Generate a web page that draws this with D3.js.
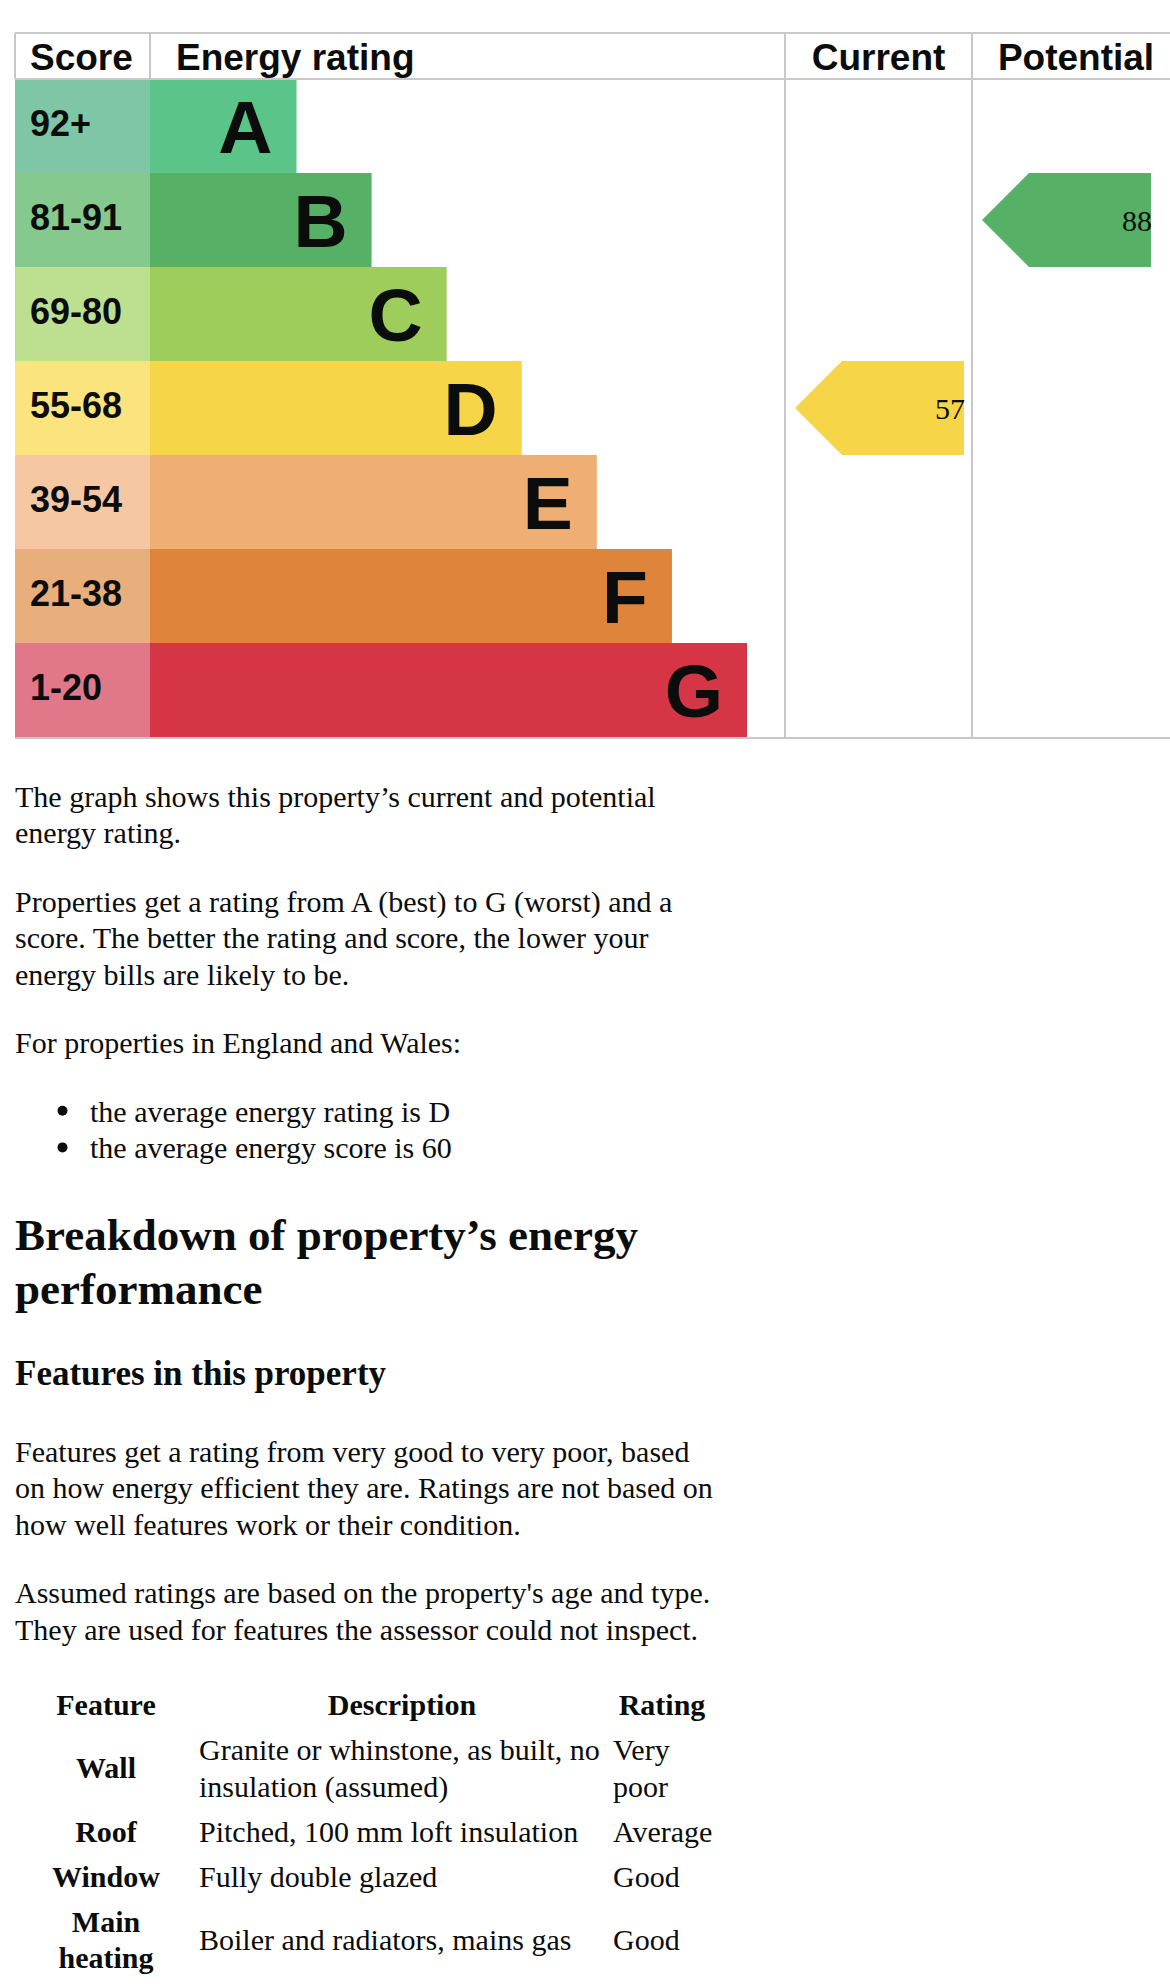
<!DOCTYPE html>
<html>
<head>
<meta charset="utf-8">
<script src="https://cdn.jsdelivr.net/npm/d3@7"></script>
<style>
  html, body { margin: 0; padding: 0; background: #fff; }
  svg { display: block; }
</style>
</head>
<body>
<div id="chart"></div>
<script>
// ---------- DATA ----------
const ratings = ["A", "B", "C", "D", "E", "F", "G"];
const scoreRanges = ["92+", "81-91", "69-80", "55-68", "39-54", "21-38", "1-20"];
const bandMinScores = [21, 39, 55, 69, 81, 92];       // thresholds G..A
const bandsLowToHigh = ["G", "F", "E", "D", "C", "B", "A"];
const barColors = ["#5bc589", "#56b166", "#9ecd5c", "#f6d548", "#efae74", "#df843b", "#d63546"];
const scoreColors = ["#7fc6a6", "#85c98f", "#bde090", "#fbe37d", "#f5c8a3", "#e8ae7c", "#e07889"];
const columnHeaders = ["Score", "Energy rating", "Current", "Potential"];
const currentScore = 57;
const potentialScore = 88;

const introParagraphs = [
  ["The graph shows this property\u2019s current and potential", "energy rating."],
  ["Properties get a rating from A (best) to G (worst) and a", "score. The better the rating and score, the lower your", "energy bills are likely to be."],
  ["For properties in England and Wales:"]
];
const bullets = ["the average energy rating is D", "the average energy score is 60"];
const headingLines = ["Breakdown of property\u2019s energy", "performance"];
const subHeading = "Features in this property";
const featureParagraphs = [
  ["Features get a rating from very good to very poor, based", "on how energy efficient they are. Ratings are not based on", "how well features work or their condition."],
  ["Assumed ratings are based on the property's age and type.", "They are used for features the assessor could not inspect."]
];
const tableHeaders = ["Feature", "Description", "Rating"];
const featureNames = [["Wall"], ["Roof"], ["Window"], ["Main", "heating"]];
const featureDescriptions = [
  ["Granite or whinstone, as built, no", "insulation (assumed)"],
  ["Pitched, 100 mm loft insulation"],
  ["Fully double glazed"],
  ["Boiler and radiators, mains gas"]
];
const featureRatings = [["Very", "poor"], ["Average"], ["Good"], ["Good"]];

// ---------- LAYOUT ----------
const W = 1170, H = 1986;
const SANS = "'Liberation Sans', Arial, Helvetica, sans-serif";
const SERIF = "'Liberation Serif', 'Times New Roman', Times, serif";
const INK = "#0b0c0c";
const GRID = "#c8c8c8";

const tableLeft = 15, scoreDiv = 150, curDiv = 785, potDiv = 972, tableRight = 1181;
const tableTop = 33, headerBottom = 79, chartBottom = 737;

const svg = d3.select("#chart").append("svg")
  .attr("width", W).attr("height", H)
  .attr("viewBox", `0 0 ${W} ${H}`);

const y = d3.scaleBand().domain(ratings).range([headerBottom, chartBottom]).paddingInner(0).paddingOuter(0);
const barRight = d3.scaleLinear().domain([0, ratings.length - 1]).range([296.5, 747]);
const bandOf = d3.scaleThreshold().domain(bandMinScores).range(bandsLowToHigh);

// score cells
svg.append("g").selectAll("rect").data(ratings).join("rect")
  .attr("x", tableLeft).attr("y", d => y(d))
  .attr("width", scoreDiv - tableLeft).attr("height", y.bandwidth())
  .attr("fill", (d, i) => scoreColors[i]);

// bars
svg.append("g").selectAll("rect").data(ratings).join("rect")
  .attr("x", scoreDiv).attr("y", d => y(d))
  .attr("width", (d, i) => barRight(i) - scoreDiv).attr("height", y.bandwidth())
  .attr("fill", (d, i) => barColors[i]);

// score labels
svg.append("g").selectAll("text").data(scoreRanges).join("text")
  .attr("x", 30).attr("y", (d, i) => y(ratings[i]) + y.bandwidth() / 2 + 9.5)
  .attr("font-family", SANS).attr("font-weight", "bold").attr("font-size", 36)
  .attr("fill", INK).text(d => d);

// rating letters
svg.append("g").selectAll("text").data(ratings).join("text")
  .attr("x", (d, i) => barRight(i) - 24).attr("y", d => y(d) + y.bandwidth() / 2 + 26.5)
  .attr("text-anchor", "end")
  .attr("font-family", SANS).attr("font-weight", "bold").attr("font-size", 75)
  .attr("fill", INK).text(d => d);

// grid lines
const grid = svg.append("g").attr("stroke", GRID).attr("stroke-width", 2).attr("fill", "none");
grid.append("line").attr("x1", tableLeft).attr("x2", tableRight).attr("y1", tableTop).attr("y2", tableTop);
grid.append("line").attr("x1", tableLeft).attr("x2", tableRight).attr("y1", headerBottom).attr("y2", headerBottom);
grid.append("line").attr("x1", tableLeft).attr("x2", tableRight).attr("y1", chartBottom + 1).attr("y2", chartBottom + 1);
grid.append("line").attr("x1", tableLeft).attr("x2", tableLeft).attr("y1", tableTop).attr("y2", headerBottom);
grid.append("line").attr("x1", scoreDiv).attr("x2", scoreDiv).attr("y1", tableTop).attr("y2", headerBottom);
grid.append("line").attr("x1", curDiv).attr("x2", curDiv).attr("y1", tableTop).attr("y2", chartBottom + 1);
grid.append("line").attr("x1", potDiv).attr("x2", potDiv).attr("y1", tableTop).attr("y2", chartBottom + 1);

// header texts
const headerPos = [
  { x: 30, anchor: "start" },
  { x: 176, anchor: "start" },
  { x: (curDiv + potDiv) / 2, anchor: "middle" },
  { x: 1076, anchor: "middle" }
];
svg.append("g").selectAll("text").data(columnHeaders).join("text")
  .attr("x", (d, i) => headerPos[i].x).attr("y", 70)
  .attr("text-anchor", (d, i) => headerPos[i].anchor)
  .attr("font-family", SANS).attr("font-weight", "bold").attr("font-size", 37)
  .attr("fill", INK).text(d => d);

// arrows
const arrows = [
  { score: currentScore, col: curDiv },
  { score: potentialScore, col: potDiv }
];
const ag = svg.append("g").selectAll("g").data(arrows).join("g");
ag.append("path")
  .attr("d", d => {
    const b = bandOf(d.score);
    const t = y(b), bt = t + y.bandwidth(), yc = t + y.bandwidth() / 2;
    const x0 = d.col + 10, x1 = d.col + 10 + y.bandwidth() / 2, x2 = d.col + 179;
    return `M${x0},${yc}L${x1},${t}L${x2},${t}L${x2},${bt}L${x1},${bt}Z`;
  })
  .attr("fill", d => barColors[ratings.indexOf(bandOf(d.score))]);
ag.append("text")
  .attr("x", d => d.col + 180)
  .attr("y", d => y(bandOf(d.score)) + y.bandwidth() / 2 + 11)
  .attr("text-anchor", "end")
  .attr("font-family", SERIF).attr("font-size", 30).attr("fill", INK)
  .text(d => d.score);

// ---------- TEXT BELOW ----------
const body = svg.append("g").attr("font-family", SERIF).attr("fill", INK);
const LH = 36.7;
const paraStarts = [806.7, 911.7, 1053.3];
introParagraphs.forEach((lines, p) => {
  lines.forEach((ln, j) => {
    body.append("text").attr("x", 15).attr("y", paraStarts[p] + j * LH)
      .attr("font-size", 30).text(ln);
  });
});
bullets.forEach((b, j) => {
  const by = 1121.7 + j * LH;
  body.append("circle").attr("cx", 62.5).attr("cy", by - 11).attr("r", 5).attr("fill", INK);
  body.append("text").attr("x", 90).attr("y", by).attr("font-size", 30).text(b);
});
headingLines.forEach((ln, j) => {
  body.append("text").attr("x", 15).attr("y", 1250 + j * 54)
    .attr("font-size", 45).attr("font-weight", "bold").text(ln);
});
body.append("text").attr("x", 15).attr("y", 1385)
  .attr("font-size", 35).attr("font-weight", "bold").text(subHeading);
const fpStarts = [1461.7, 1603.3];
featureParagraphs.forEach((lines, p) => {
  lines.forEach((ln, j) => {
    body.append("text").attr("x", 15).attr("y", fpStarts[p] + j * LH)
      .attr("font-size", 30).text(ln);
  });
});

// features table
const colFeature = 106, colDesc = 199, colRating = 613, colDescCenter = 402, colRatingCenter = 662;
const th = body.append("g").attr("font-size", 30).attr("font-weight", "bold").attr("text-anchor", "middle");
[colFeature, colDescCenter, colRatingCenter].forEach((cx, i) => {
  th.append("text").attr("x", cx).attr("y", 1715).text(tableHeaders[i]);
});
let cursor = 1760;
featureNames.forEach((names, r) => {
  const desc = featureDescriptions[r], rat = featureRatings[r];
  const n = Math.max(names.length, desc.length, rat.length);
  const cell = (lines, x, anchor, bold) => {
    const off = (n - lines.length) * LH / 2;
    lines.forEach((ln, j) => {
      body.append("text").attr("x", x).attr("y", cursor + off + j * LH)
        .attr("font-size", 30).attr("text-anchor", anchor)
        .attr("font-weight", bold ? "bold" : "normal").text(ln);
    });
  };
  cell(names, colFeature, "middle", true);
  cell(desc, colDesc, "start", false);
  cell(rat, colRating, "start", false);
  cursor += (n - 1) * LH + 45;
});
</script>
</body>
</html>
